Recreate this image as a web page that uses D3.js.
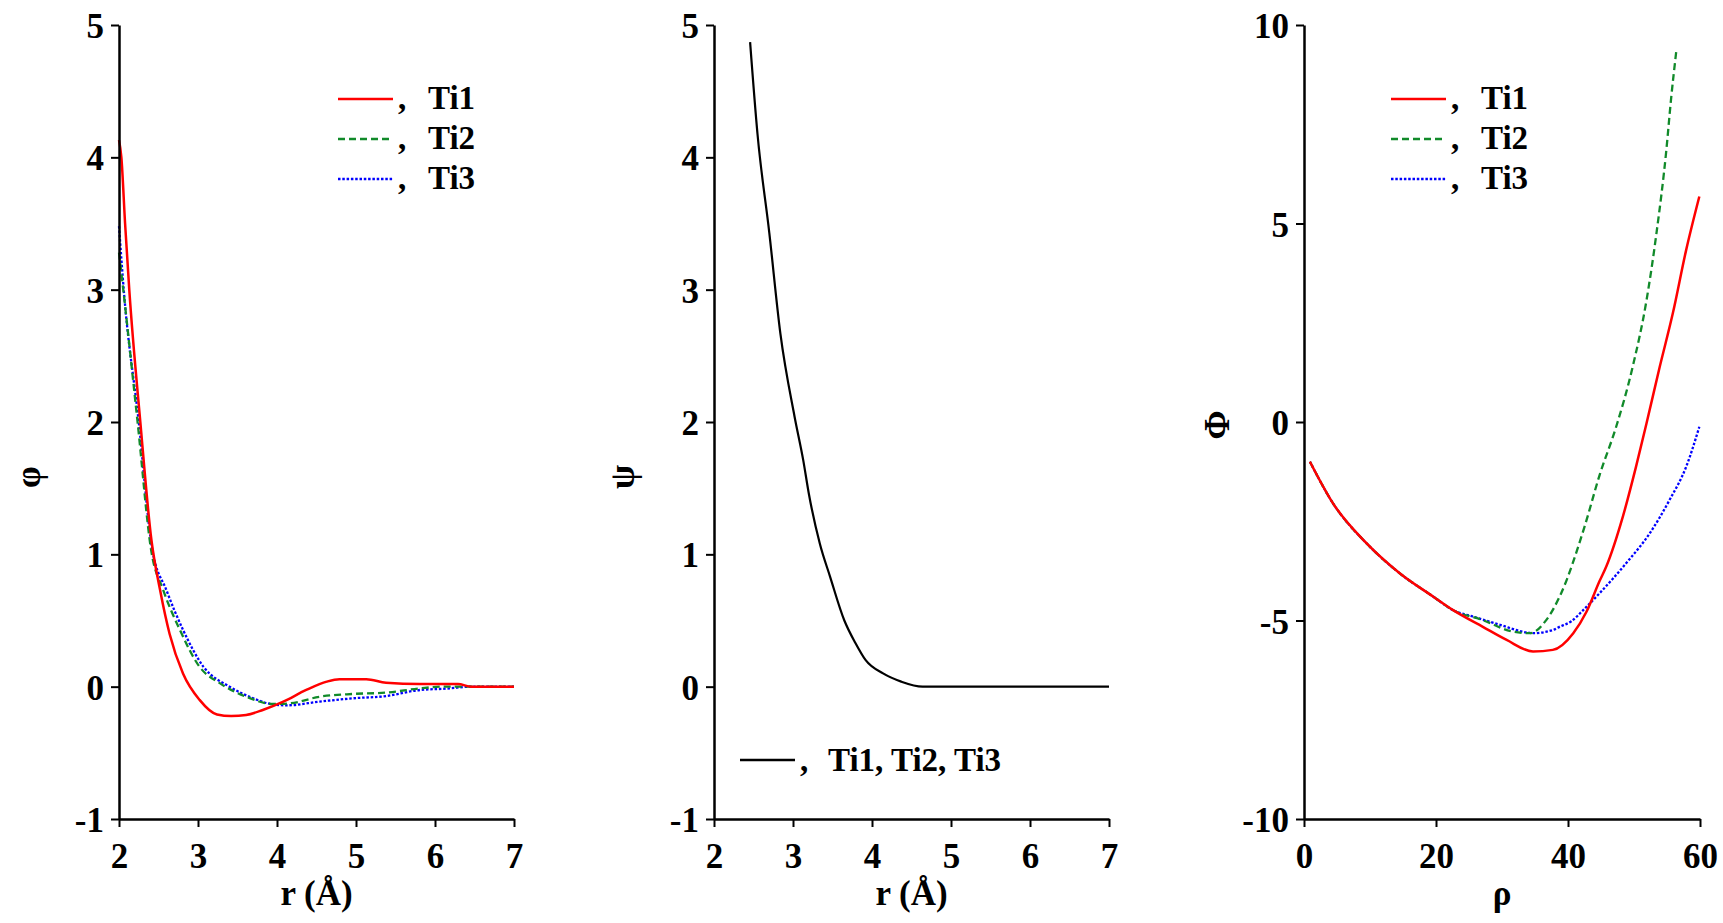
<!DOCTYPE html>
<html>
<head>
<meta charset="utf-8">
<script src="https://cdn.jsdelivr.net/npm/d3@7"></script>
<style>
  html, body { margin: 0; padding: 0; background: #fff; }
  svg { display: block; }
  text { font-family: "Liberation Serif", "Times New Roman", serif; font-weight: bold; fill: #000; }
</style>
</head>
<body>
<svg id="chart" width="1723" height="923"></svg>
<script>
// ---- Pair potential φ(r), Ti1/Ti2/Ti3 ----
const phiTi1R = [2.00, 2.03, 2.077, 2.13, 2.27, 2.41, 2.52, 2.64, 2.81, 3.02, 3.24, 3.42, 3.61, 3.82, 4.08, 4.37, 4.63, 4.79, 5.13, 5.38, 5.81, 6.29, 6.46, 7.00];
const phiTi1V = [4.13, 4.00, 3.50, 3.00, 2.00, 1.11, 0.73, 0.40, 0.10, -0.10, -0.21, -0.222, -0.214, -0.176, -0.113, -0.025, 0.038, 0.056, 0.056, 0.03, 0.02, 0.02, 0.00, 0.00];
const phiTi2R = [2.00, 2.054, 2.235, 2.41, 2.56, 2.77, 3.02, 3.28, 3.61, 3.95, 4.16, 4.54, 4.96, 5.38, 5.81, 6.10, 7.00];
const phiTi2V = [3.28, 3.00, 2.00, 1.02, 0.73, 0.43, 0.15, 0.025, -0.076, -0.131, -0.126, -0.076, -0.055, -0.045, -0.013, 0.00, 0.00];
const phiTi3R = [2.00, 2.06, 2.25, 2.42, 2.60, 2.81, 3.07, 3.40, 3.70, 3.99, 4.12, 4.54, 4.96, 5.38, 5.81, 6.14, 6.46, 7.00];
const phiTi3V = [3.48, 3.00, 2.00, 1.04, 0.73, 0.43, 0.15, 0.00, -0.088, -0.138, -0.141, -0.113, -0.088, -0.071, -0.025, -0.015, 0.00, 0.00];

// ---- Density function ψ(r), shared by Ti1, Ti2, Ti3 ----
const psiR = [2.457, 2.55, 2.70, 2.84, 3.02, 3.13, 3.20, 3.34, 3.47, 3.65, 3.79, 3.92, 4.14, 4.37, 4.64, 7.00];
const psiV = [4.87, 4.18, 3.43, 2.67, 2.04, 1.71, 1.46, 1.08, 0.83, 0.50, 0.33, 0.20, 0.10, 0.038, 0.00, 0.00];

// ---- Embedding function Φ(ρ) ----
const embTi1Rho = [0.9, 4.4, 9.5, 14.5, 19.6, 22.6, 27.1, 30.7, 34.7, 37.7, 40.8, 42.8, 44.8, 45.8, 48.3, 50.3, 51.9, 53.9, 55.9, 57.9, 59.9];
const embTi1V   = [-1.0, -2.05, -3.06, -3.81, -4.40, -4.74, -5.16, -5.49, -5.78, -5.74, -5.32, -4.78, -4.00, -3.64, -2.39, -1.13, -0.03, 1.39, 2.75, 4.33, 5.68];
const embTi2Rho = [0.9, 4.4, 9.5, 14.5, 19.6, 22.6, 27.1, 31.6, 34.2, 36.7, 39.0, 42.5, 44.8, 47.3, 49.8, 51.9, 53.4, 54.9, 55.6, 56.4];
const embTi2V   = [-1.0, -2.05, -3.06, -3.81, -4.40, -4.74, -4.99, -5.28, -5.32, -4.99, -4.30, -2.64, -1.33, -0.12, 1.39, 3.07, 4.75, 6.85, 8.11, 9.33];
const embTi3Rho = [0.9, 4.4, 9.5, 14.5, 19.6, 22.6, 25.6, 29.7, 33.7, 34.7, 37.7, 38.7, 40.5, 42.3, 44.8, 48.8, 52.4, 55.4, 57.9, 59.9];
const embTi3V   = [-1.0, -2.05, -3.06, -3.81, -4.40, -4.74, -4.90, -5.11, -5.30, -5.32, -5.24, -5.16, -5.02, -4.74, -4.31, -3.56, -2.80, -1.96, -1.13, -0.12];

// ---- Axis ticks ----
const rTicks = [2, 3, 4, 5, 6, 7];
const phiTicks = [-1, 0, 1, 2, 3, 4, 5];
const rhoTicks = [0, 20, 40, 60];
const embTicks = [-10, -5, 0, 5, 10];

const seriesNames = ["Ti1", "Ti2", "Ti3"];
const seriesColors = ["#ff0000", "#118a2a", "#0000ff"];
const seriesDash = [null, "7,4", "2.5,1.8"];

const svg = d3.select("#chart");
const yTop = 25, yBottom = 819;
const panels = [
  { x0: 119, x1: 514 },
  { x0: 714, x1: 1109 },
  { x0: 1304, x1: 1700 }
];

function zip(xs, ys) { return xs.map((x, i) => ({ x, y: ys[i] })); }

// plain hyphen for negative tick labels
const plainNum = d => String(d);

function drawAxes(g, x, y, xt, yt) {
  const xAxis = d3.axisBottom(x).tickValues(xt).tickSize(8).tickSizeOuter(0).tickPadding(16).tickFormat(plainNum);
  const yAxis = d3.axisLeft(y).tickValues(yt).tickSize(8).tickSizeOuter(0).tickPadding(7).tickFormat(plainNum);
  const gx = g.append("g").attr("transform", `translate(0,${yBottom})`).call(xAxis);
  const gy = g.append("g").attr("transform", `translate(${x.range()[0]},0)`).call(yAxis);
  [gx, gy].forEach(a => {
    a.select(".domain").attr("stroke", "#000").attr("stroke-width", 2.5);
    a.selectAll(".tick line").attr("stroke", "#000").attr("stroke-width", 2);
    a.selectAll(".tick text").style("font-size", "35px").attr("fill", "#000");
  });
  gy.selectAll(".tick text").attr("dy", "0.36em");
}

function drawLine(g, x, y, data, color, dash, width) {
  const line = d3.line().x(d => x(d.x)).y(d => y(d.y)).curve(d3.curveMonotoneX);
  g.append("path").datum(data)
    .attr("fill", "none").attr("stroke", color).attr("stroke-width", width)
    .attr("stroke-dasharray", dash).attr("d", line);
}

function legendRow(g, lx, ly, color, dash, label) {
  g.append("line").attr("x1", lx).attr("x2", lx + 55).attr("y1", ly).attr("y2", ly)
    .attr("stroke", color).attr("stroke-width", 2.5).attr("stroke-dasharray", dash);
  g.append("text").attr("x", lx + 60).attr("y", ly + 10).style("font-size", "33px").text(",");
  g.append("text").attr("x", lx + 90).attr("y", ly + 10).style("font-size", "33px").text(label);
}

// Panel 1: φ(r)
{
  const p = panels[0];
  const g = svg.append("g");
  const x = d3.scaleLinear().domain([2, 7]).range([p.x0, p.x1]);
  const y = d3.scaleLinear().domain([-1, 5]).range([yBottom, yTop]);
  const sets = [zip(phiTi1R, phiTi1V), zip(phiTi2R, phiTi2V), zip(phiTi3R, phiTi3V)];
  [2, 1, 0].forEach(i => drawLine(g, x, y, sets[i], seriesColors[i], seriesDash[i], i === 0 ? 2.5 : 2.3));
  drawAxes(g, x, y, rTicks, phiTicks);
  seriesNames.forEach((n, i) => legendRow(g, 338, 99 + i * 40, seriesColors[i], seriesDash[i], n));
  g.append("text").attr("x", (p.x0 + p.x1) / 2).attr("y", 905).attr("text-anchor", "middle").style("font-size", "35px").text("r (Å)");
  g.append("text").attr("transform", "translate(40,477) rotate(-90)").attr("text-anchor", "middle").style("font-size", "35px").text("φ");
}

// Panel 2: ψ(r)
{
  const p = panels[1];
  const g = svg.append("g");
  const x = d3.scaleLinear().domain([2, 7]).range([p.x0, p.x1]);
  const y = d3.scaleLinear().domain([-1, 5]).range([yBottom, yTop]);
  drawLine(g, x, y, zip(psiR, psiV), "#000", null, 2.2);
  drawAxes(g, x, y, rTicks, phiTicks);
  g.append("line").attr("x1", 740).attr("x2", 795).attr("y1", 760).attr("y2", 760).attr("stroke", "#000").attr("stroke-width", 2.5);
  g.append("text").attr("x", 800).attr("y", 771).style("font-size", "33px").text(",");
  g.append("text").attr("x", 828).attr("y", 771).style("font-size", "33px").text("Ti1, Ti2, Ti3");
  g.append("text").attr("x", (p.x0 + p.x1) / 2).attr("y", 905).attr("text-anchor", "middle").style("font-size", "35px").text("r (Å)");
  g.append("text").attr("transform", "translate(634,477) rotate(-90)").attr("text-anchor", "middle").style("font-size", "35px").text("ψ");
}

// Panel 3: Φ(ρ)
{
  const p = panels[2];
  const g = svg.append("g");
  const x = d3.scaleLinear().domain([0, 60]).range([p.x0, p.x1]);
  const y = d3.scaleLinear().domain([-10, 10]).range([yBottom, yTop]);
  const sets = [zip(embTi1Rho, embTi1V), zip(embTi2Rho, embTi2V), zip(embTi3Rho, embTi3V)];
  [2, 1, 0].forEach(i => drawLine(g, x, y, sets[i], seriesColors[i], seriesDash[i], i === 0 ? 2.5 : 2.3));
  drawAxes(g, x, y, rhoTicks, embTicks);
  seriesNames.forEach((n, i) => legendRow(g, 1391, 99 + i * 40, seriesColors[i], seriesDash[i], n));
  g.append("text").attr("x", (p.x0 + p.x1) / 2).attr("y", 905).attr("text-anchor", "middle").style("font-size", "35px").text("ρ");
  g.append("text").attr("transform", "translate(1229,425) rotate(-90)").attr("text-anchor", "middle").style("font-size", "35px").text("Φ");
}
</script>
</body>
</html>
